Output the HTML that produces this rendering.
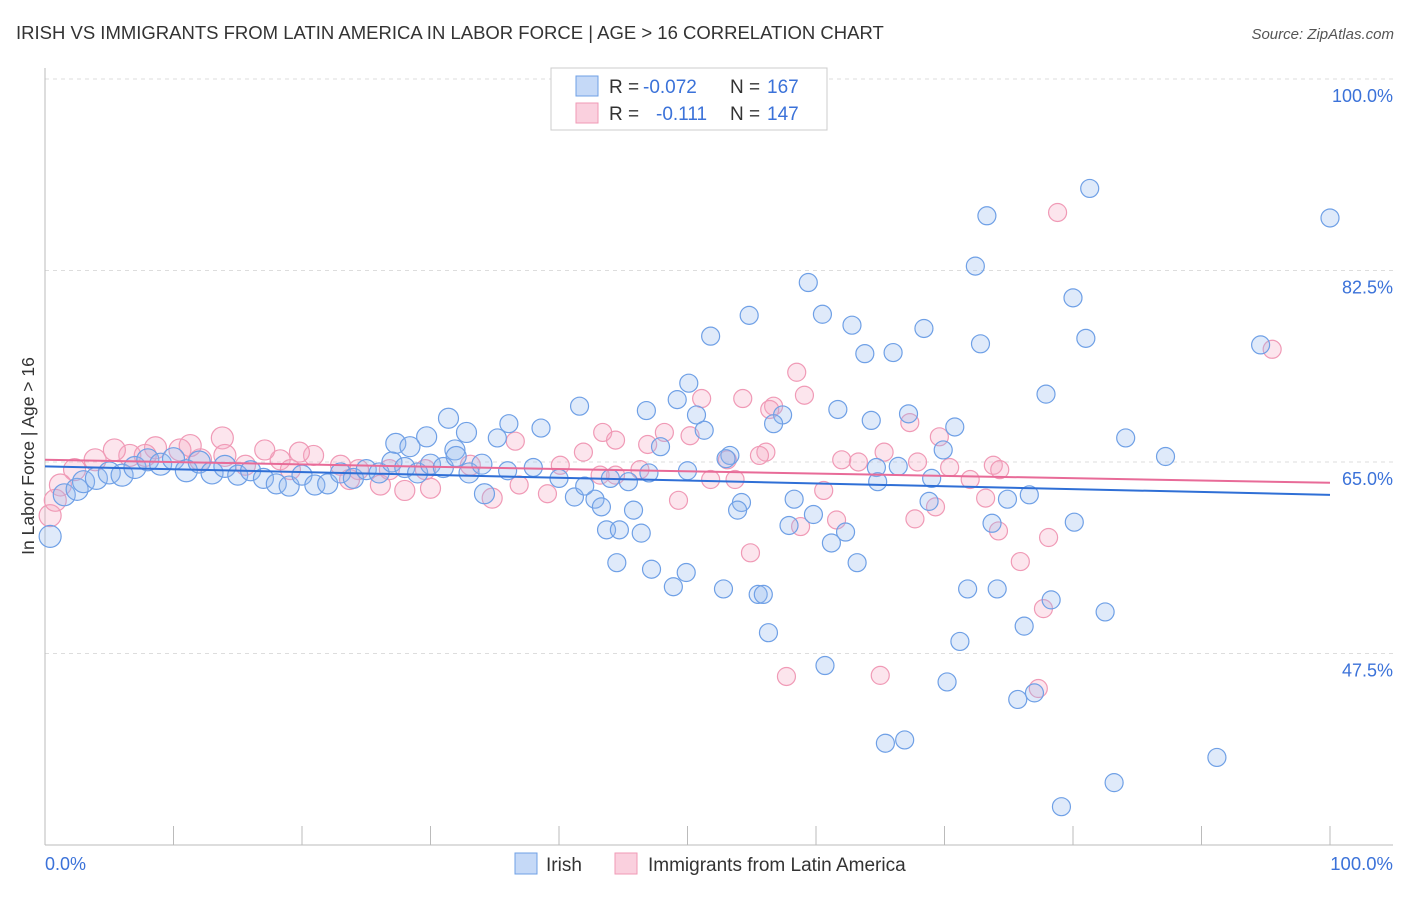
<!DOCTYPE html>
<html><head><meta charset="utf-8"><style>
body{margin:0;background:#fff;font-family:"Liberation Sans",sans-serif}
</style></head><body>
<svg width="1406" height="892" xmlns="http://www.w3.org/2000/svg" id="svg">
<text x="16" y="39" font-size="18.5" fill="#333">IRISH VS IMMIGRANTS FROM LATIN AMERICA IN LABOR FORCE | AGE &gt; 16 CORRELATION CHART</text>
<text x="1394" y="39" font-size="15" fill="#555" font-style="italic" text-anchor="end">Source: ZipAtlas.com</text>
<text transform="translate(34,456) rotate(-90)" font-size="17.5" fill="#333" text-anchor="middle">In Labor Force | Age &gt; 16</text>
<g id="grid"></g><g id="pts"></g><g id="lines"></g>
<g>
<rect x="551" y="68" width="276" height="62" fill="#fff" stroke="#ccc"/>
<rect x="576" y="76" width="22" height="20" fill="rgba(150,185,240,0.55)" stroke="#6fa0e6"/>
<rect x="576" y="103" width="22" height="20" fill="rgba(245,170,195,0.55)" stroke="#f09ab6"/>
<text x="609" y="93" font-size="19" fill="#333">R =</text><text x="643" y="93" font-size="19" fill="#3b72d9">-0.072</text>
<text x="730" y="93" font-size="19" fill="#333">N =</text><text x="767" y="93" font-size="19" fill="#3b72d9">167</text>
<text x="609" y="120" font-size="19" fill="#333">R =</text><text x="656" y="120" font-size="19" fill="#3b72d9">-0.111</text>
<text x="730" y="120" font-size="19" fill="#333">N =</text><text x="767" y="120" font-size="19" fill="#3b72d9">147</text>
</g>
<g>
<rect x="515" y="853" width="22" height="21" fill="rgba(150,185,240,0.55)" stroke="#6fa0e6"/>
<text x="546" y="871" font-size="19" fill="#333">Irish</text>
<rect x="615" y="853" width="22" height="21" fill="rgba(245,170,195,0.55)" stroke="#f09ab6"/>
<text x="648" y="871" font-size="19" fill="#333">Immigrants from Latin America</text>
</g>
<text x="45" y="870" font-size="18" fill="#3b72d9">0.0%</text>
<text x="1393" y="870" font-size="18.5" fill="#3b72d9" text-anchor="end">100.0%</text>
</svg>
<script>
const yTicks=[100,82.5,65,47.5];
const yTickLabels=["100.0%","82.5%","65.0%","47.5%"];
const xTicks=[0,10,20,30,40,50,60,70,80,90,100];
const blueX=[0.4,81.3,73.3,100,72.4,59.4,80,60.5,54.8,62.8,68.4,51.8,81,72.8,94.6,63.8,66,50.1,77.9,49.2,46.8,41.6,61.7,57.4,50.7,67.2,64.3,31.4,36.1,38.6,56.7,70.8,51.3,84.1,32.8,29.7,35.2,27.3,28.4,47.9,31.9,69.9,87.2,53.3,64.7,66.4,69,64.8,45.4,34.2,41.2,42.8,58.3,54.2,68.8,74.9,76.6,43.3,45.8,53.9,59.8,73.7,80.1,57.9,43.7,44.7,46.4,62.3,61.2,44.5,63.2,47.2,49.9,48.9,52.8,55.5,55.9,71.8,74.1,78.3,82.5,76.2,56.3,71.2,60.7,70.2,75.7,77,65.4,66.9,91.2,83.2,79.1,1.5,2.5,3,4,5,6,7,8,9,10,11,12,13,14,15,16,17,18,19,20,21,22,23,24,25,26,27,28,29,30,31,32,33,34,36,38,40,42,44,47,50,53];
const blueY=[58.2,90,87.5,87.3,82.9,81.4,80,78.5,78.4,77.5,77.2,76.5,76.3,75.8,75.7,74.9,75,72.2,71.2,70.7,69.7,70.1,69.8,69.3,69.3,69.4,68.8,69,68.5,68.1,68.5,68.2,67.9,67.2,67.7,67.3,67.2,66.7,66.4,66.4,66.1,66.1,65.5,65.6,64.5,64.6,63.5,63.2,63.2,62.1,61.8,61.6,61.6,61.3,61.4,61.6,62,60.9,60.6,60.6,60.2,59.4,59.5,59.2,58.8,58.8,58.5,58.6,57.6,55.8,55.8,55.2,54.9,53.6,53.4,52.9,52.9,53.4,53.4,52.4,51.3,50,49.4,48.6,46.4,44.9,43.3,43.9,39.3,39.6,38,35.7,33.5,62,62.5,63.2,63.5,64,63.8,64.5,65.2,64.8,65.3,64.2,65,64,64.6,63.8,64.2,63.5,63,62.8,63.8,62.9,63,64,63.5,64.3,64,65,64.5,64,64.8,64.5,65.5,64,64.8,64.2,64.5,63.5,62.8,63.5,64,64.2,65.3];
const pinkX=[78.8,95.5,58.5,59.1,51.1,54.3,56.7,56.4,67.3,43.4,48.2,69.6,50.2,44.4,36.6,13.8,56.1,65.3,73.8,67.9,60.6,49.3,34.8,73.2,69.3,61.6,67.7,58.8,74.2,78.1,75.9,54.9,77.7,57.7,65,77.3,46.9,53.1,41.9,40.1,39.1,36.9,33.1,30,28,26.1,24.4,23,20.9,19.8,18.3,17.1,15.6,14,12.1,10.5,8.6,6.6,5.4,3.9,2.3,1.2,0.4,0.8,51.8,46.3,44.4,63.3,70.4,72,74.3,53.7,55.6,62,43.2,29.6,26.8,23.7,19.1,11.3,7.8];
const pinkY=[87.8,75.3,73.2,71.1,70.8,70.8,70.1,69.8,68.6,67.7,67.7,67.3,67.4,67,66.9,67.2,65.9,65.9,64.7,65,62.4,61.5,61.7,61.7,60.9,59.7,59.8,59.1,58.7,58.1,55.9,56.7,51.6,45.4,45.5,44.3,66.6,65.2,65.9,64.7,62.1,62.9,64.7,62.6,62.4,62.9,64.3,64.7,65.6,65.9,65.2,66.1,64.7,65.6,65.2,66.1,66.3,65.6,66.1,65.2,64.3,62.9,60.1,61.5,63.4,64.3,63.8,65,64.5,63.4,64.3,63.4,65.6,65.2,63.8,64.3,64.3,63.4,64.3,66.5,65.6];
const blueTrend=[64.6,62.0];
const pinkTrend=[65.2,63.1];
const X=v=>45+v*12.85, Y=v=>845-(v-30)*10.943;
const NS="http://www.w3.org/2000/svg";
function mk(tag,attrs,parent){const e=document.createElementNS(NS,tag);for(const k in attrs)e.setAttribute(k,attrs[k]);parent.appendChild(e);return e;}
const grid=document.getElementById('grid');
yTicks.forEach((t,i)=>{
 const l=mk('line',{x1:45,x2:1393,y1:Y(t),y2:Y(t),stroke:'#ddd','stroke-dasharray':'4,4'},grid);
 
 
 const tx=mk('text',{x:1393,y:Y(t)+23,'font-size':18,fill:'#3b72d9','text-anchor':'end'},grid);
 tx.textContent=yTickLabels[i];
 
 
});
const ax=mk('line',{x1:45,x2:1393,y1:845,y2:845,stroke:'#bbb'},grid);


const ay=mk('line',{x1:45,x2:45,y1:68,y2:845,stroke:'#bbb'},grid);


xTicks.forEach(t=>{
 const l=mk('line',{x1:X(t),x2:X(t),y1:826,y2:845,stroke:'#bbb'},grid);
 
 
});
const pts=document.getElementById('pts');
function draw(xs,ys,fill,stroke,name){
 xs.forEach((x,i)=>{
  const r=x<35?(x<15?11:10):9;
  const c=mk('circle',{cx:X(x),cy:Y(ys[i]),r:r,fill:fill,stroke:stroke,'stroke-width':1.2},pts);
  
  
 });
}
draw(pinkX,pinkY,'rgba(245,170,195,0.3)','#f09ab6','latin-america-point');
draw(blueX,blueY,'rgba(150,185,240,0.3)','#6fa0e6','irish-point');
const lines=document.getElementById('lines');
const bl=mk('line',{x1:X(0),x2:X(100),y1:Y(blueTrend[0]),y2:Y(blueTrend[1]),stroke:'#2f6fd6','stroke-width':2},lines);


const pl=mk('line',{x1:X(0),x2:X(100),y1:Y(pinkTrend[0]),y2:Y(pinkTrend[1]),stroke:'#e86b98','stroke-width':2},lines);


</script>
</body></html>
